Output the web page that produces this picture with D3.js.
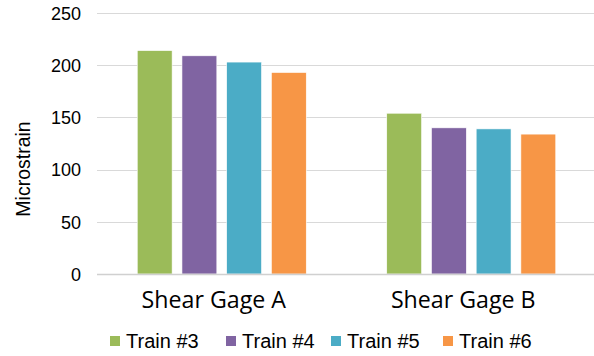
<!DOCTYPE html>
<html>
<head>
<meta charset="utf-8">
<script src="https://cdn.jsdelivr.net/npm/d3@7"></script>
<style>
  html, body { margin: 0; padding: 0; background: #fff; }
  svg { display: block; }
</style>
</head>
<body>
<svg id="chart" width="594" height="356"></svg>
<script>
// Shear gage readings per train
const categories = ["Shear Gage A", "Shear Gage B"];
const seriesNames = ["Train #3", "Train #4", "Train #5", "Train #6"];
const train3 = [214, 154];
const train4 = [209, 140];
const train5 = [203, 139];
const train6 = [193, 134];
const yTicks = [0, 50, 100, 150, 200, 250];
const colors = ["#9BBB59", "#8064A2", "#4BACC6", "#F79646"];

const seriesValues = [train3, train4, train5, train6];

const svg = d3.select("#chart");
const margin = { left: 97, right: -2, top: 13, bottom: 82 };
const W = 594, H = 356;

const x0 = d3.scaleBand()
  .domain(categories)
  .range([margin.left, W - margin.right])
  .paddingInner(0)
  .paddingOuter(0);

const x1 = d3.scaleBand()
  .domain(seriesNames)
  .range([0, x0.bandwidth()])
  .paddingInner(0.22)
  .paddingOuter(0.9);

const y = d3.scaleLinear()
  .domain([0, 250])
  .range([H - margin.bottom, margin.top]);

// gridlines
svg.append("g")
  .selectAll("line")
  .data(yTicks.filter(t => t > 0))
  .join("line")
  .attr("x1", margin.left)
  .attr("x2", W)
  .attr("y1", d => Math.round(y(d)) + 0.5)
  .attr("y2", d => Math.round(y(d)) + 0.5)
  .attr("stroke", "#d9d9d9")
  .attr("stroke-width", 1);

// y tick labels
const yAxis = d3.axisLeft(y).tickValues(yTicks).tickSize(0).tickPadding(0);
const gy = svg.append("g")
  .attr("transform", `translate(81,0)`)
  .call(yAxis);
gy.select(".domain").remove();
gy.selectAll("text")
  .attr("font-family", "Liberation Sans, Arial, sans-serif")
  .attr("font-size", 18)
  .attr("fill", "#000")
  .attr("dy", "0.35em");

// y axis title
svg.append("text")
  .attr("transform", `translate(30,169) rotate(-90)`)
  .attr("text-anchor", "middle")
  .attr("font-family", "Liberation Sans, Arial, sans-serif")
  .attr("font-size", 19.5)
  .attr("fill", "#000")
  .text("Microstrain");

// bars
const groups = svg.append("g")
  .selectAll("g")
  .data(categories)
  .join("g")
  .attr("transform", d => `translate(${x0(d)},0)`);

groups.selectAll("rect")
  .data((c, ci) => seriesNames.map((s, si) => ({ s, si, v: seriesValues[si][ci] })))
  .join("rect")
  .attr("x", d => x1(d.s))
  .attr("width", x1.bandwidth())
  .attr("y", d => y(d.v))
  .attr("height", d => y(0) - y(d.v))
  .attr("fill", d => colors[d.si])
  .attr("stroke", "#fff")
  .attr("stroke-width", 0.6);

// baseline
svg.append("line")
  .attr("x1", margin.left)
  .attr("x2", W)
  .attr("y1", y(0) + 0.5)
  .attr("y2", y(0) + 0.5)
  .attr("stroke", "#d0d0d0")
  .attr("stroke-width", 1.5);

// category labels
svg.append("g")
  .selectAll("text")
  .data(categories)
  .join("text")
  .attr("x", d => x0(d) + x0.bandwidth() / 2 - 8)
  .attr("y", 308)
  .attr("text-anchor", "middle")
  .attr("font-family", "'Open Sans', Lato, sans-serif")
  .attr("font-size", 23.2)
  .attr("fill", "#000")
  .text(d => d);

// legend
const legendX = [110, 226, 331, 443];
const legend = svg.append("g")
  .selectAll("g")
  .data(seriesNames)
  .join("g")
  .attr("transform", (d, i) => `translate(${legendX[i]},0)`);

legend.append("rect")
  .attr("x", 0)
  .attr("y", 336)
  .attr("width", 10)
  .attr("height", 10)
  .attr("fill", (d, i) => colors[i]);

legend.append("text")
  .attr("x", 16)
  .attr("y", 348)
  .attr("font-family", "Liberation Sans, Arial, sans-serif")
  .attr("font-size", 20)
  .attr("fill", "#000")
  .text(d => d);
</script>
</body>
</html>
